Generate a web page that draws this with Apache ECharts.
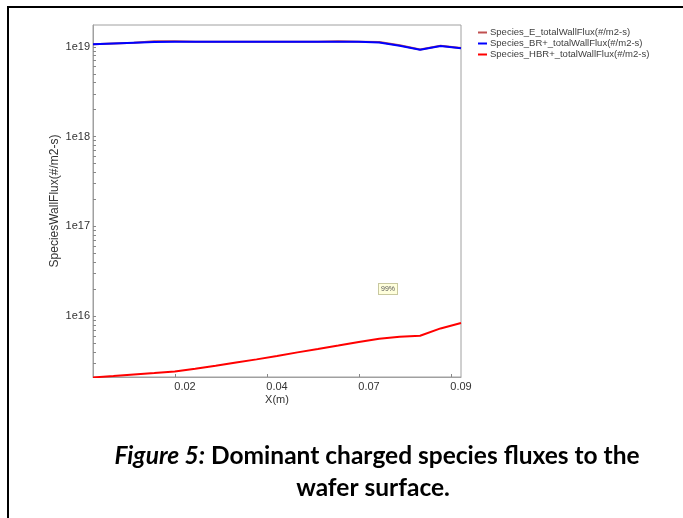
<!DOCTYPE html>
<html>
<head>
<meta charset="utf-8">
<script src="https://cdn.jsdelivr.net/npm/echarts@6/dist/echarts.min.js"></script>
<style>
html,body{margin:0;padding:0;background:#fff;}
#chart{width:683px;height:518px;}
</style>
</head>
<body>
<div id="chart"></div>
<script>
// ---- data ----
var xValues = [0, 0.005, 0.01, 0.015, 0.02, 0.025, 0.03, 0.035, 0.04, 0.045, 0.05, 0.055, 0.06, 0.065, 0.07, 0.075, 0.08, 0.085, 0.09];
var fluxE   = [1.07e19, 1.09e19, 1.11e19, 1.15e19, 1.15e19, 1.14e19, 1.14e19, 1.14e19, 1.14e19, 1.14e19, 1.14e19, 1.14e19, 1.15e19, 1.14e19, 1.13e19, 1.04e19, 0.935e19, 1.025e19, 0.97e19];
var fluxBR  = [1.07e19, 1.09e19, 1.11e19, 1.13e19, 1.14e19, 1.14e19, 1.14e19, 1.14e19, 1.14e19, 1.14e19, 1.14e19, 1.14e19, 1.14e19, 1.14e19, 1.12e19, 1.03e19, 0.93e19, 1.02e19, 0.965e19];
var fluxHBR = [2.08e15, 2.15e15, 2.24e15, 2.32e15, 2.42e15, 2.6e15, 2.8e15, 3.05e15, 3.3e15, 3.6e15, 3.95e15, 4.3e15, 4.7e15, 5.15e15, 5.6e15, 5.9e15, 6.05e15, 7.3e15, 8.4e15];
var seriesNames = ['Species_E_totalWallFlux(#/m2-s)', 'Species_BR+_totalWallFlux(#/m2-s)', 'Species_HBR+_totalWallFlux(#/m2-s)'];
var xTickValues = [0, 0.0225, 0.045, 0.0675, 0.09];
var xTickLabels = ['', '0.02', '0.04', '0.07', '0.09'];
var yTickValues = [1e16, 1e17, 1e18, 1e19];
var yTickLabels = ['1e16', '1e17', '1e18', '1e19'];
var yMinorMultipliers = [1, 2, 3, 4, 5, 6, 7, 8, 9];
var yMinorDecades = [15, 16, 17, 18, 19];
var yMin = 2.1e15, yMax = 1.75e19;

function pairs(ys) { return xValues.map(function (x, i) { return [x, ys[i]]; }); }
var yMinorTicks = [];
yMinorDecades.forEach(function (d) {
  yMinorMultipliers.forEach(function (m) {
    var v = m * Math.pow(10, d);
    if (v >= yMin && v <= yMax) yMinorTicks.push(v);
  });
});

var font = 'Liberation Sans, Arial, sans-serif';
var capFont = 'Lato, sans-serif';
var chart = echarts.init(document.getElementById('chart'), null, { renderer: 'canvas' });
chart.setOption({
  animation: false,
  backgroundColor: '#fff',
  grid: { left: 93, top: 25, right: 222, bottom: 141, show: true, borderColor: '#a0a0a0', borderWidth: 1, containLabel: false },
  legend: {
    orient: 'vertical', left: 473, top: 22,
    icon: 'rect', itemWidth: 9, itemHeight: 2, itemGap: 0,
    textStyle: { fontFamily: font, fontSize: 9.5, color: '#404040', lineHeight: 11, padding: [0, 0, 0, -2] },
    data: seriesNames
  },
  xAxis: {
    type: 'value', min: 0, max: 0.09,
    axisLine: { show: true, lineStyle: { color: '#a0a0a0' } },
    axisTick: { show: true, inside: true, length: 3, lineStyle: { color: '#888' }, customValues: [0.02, 0.0425, 0.065, 0.0875] },
    splitLine: { show: false },
    axisLabel: {
      fontFamily: font, fontSize: 11, color: '#333', margin: 4,
      customValues: xTickValues,
      formatter: function (v) {
        for (var i = 0; i < xTickValues.length; i++) if (Math.abs(v - xTickValues[i]) < 1e-9) return xTickLabels[i];
        return '';
      }
    },
    name: 'X(m)', nameLocation: 'middle', nameGap: 17, nameMoveOverlap: false,
    nameTextStyle: { fontFamily: font, fontSize: 11, color: '#333' }
  },
  yAxis: {
    type: 'log', logBase: 10, min: yMin, max: yMax,
    axisLine: { show: true, lineStyle: { color: '#a0a0a0' } },
    axisTick: { show: true, inside: true, length: 3, lineStyle: { color: '#888' }, customValues: yMinorTicks },
    splitLine: { show: false },
    axisLabel: {
      fontFamily: font, fontSize: 11, color: '#333', margin: 3,
      customValues: yTickValues,
      formatter: function (v) {
        for (var i = 0; i < yTickValues.length; i++) if (Math.abs(Math.log10(v) - Math.log10(yTickValues[i])) < 1e-6) return yTickLabels[i];
        return '';
      }
    },
    name: 'SpeciesWallFlux(#/m2-s)', nameLocation: 'middle', nameGap: 32, nameMoveOverlap: false,
    nameTextStyle: { fontFamily: font, fontSize: 12, color: '#333' }
  },
  series: [
    { name: seriesNames[0], type: 'line', data: pairs(fluxE), showSymbol: false, color: '#c05050', lineStyle: { width: 2, color: '#c05050' }, z: 2 },
    { name: seriesNames[1], type: 'line', data: pairs(fluxBR), showSymbol: false, color: '#0000ff', lineStyle: { width: 2, color: '#0000ff' }, z: 3 },
    { name: seriesNames[2], type: 'line', data: pairs(fluxHBR), showSymbol: false, color: '#ff0000', lineStyle: { width: 2, color: '#ff0000' }, z: 3 }
  ],
  graphic: [
    { type: 'rect', shape: { x: 8, y: 7, width: 720, height: 560 }, style: { fill: null, stroke: '#000', lineWidth: 2 }, silent: true },
    { type: 'text', x: 379, y: 284, style: { text: '99%', fontFamily: font, fontSize: 7, fill: '#555', backgroundColor: '#ffffdc', borderColor: '#c8c8a0', borderWidth: 1, padding: [2, 2, 1, 2] }, silent: true },
    { type: 'text', x: 377, y: 456, style: {
        text: '{i|Figure 5:} {b|Dominant charged species fluxes to the}',
        align: 'center', verticalAlign: 'middle',
        rich: {
          i: { fontFamily: capFont, fontSize: 24.5, fontWeight: 'bold', fontStyle: 'italic', fill: '#000' },
          b: { fontFamily: capFont, fontSize: 24.5, fontWeight: 'bold', fill: '#000' }
        },
        fontFamily: capFont, fontSize: 24.5, fontWeight: 'bold', fill: '#000'
      }, silent: true },
    { type: 'text', x: 373, y: 488, style: { text: 'wafer surface.', align: 'center', verticalAlign: 'middle', fontFamily: capFont, fontSize: 24.5, fontWeight: 'bold', fill: '#000' }, silent: true }
  ]
});
</script>
</body>
</html>
